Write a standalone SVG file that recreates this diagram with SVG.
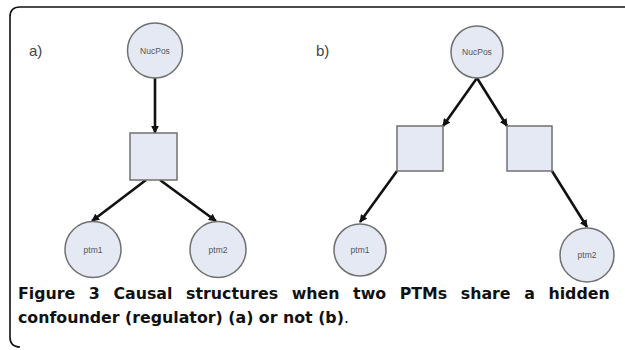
<svg xmlns="http://www.w3.org/2000/svg" width="625" height="350" viewBox="0 0 625 350">
<defs>
<style>
.node{fill:#e4e9f4;stroke:#707070;stroke-width:1.5}
.lbl{font-family:"Liberation Sans",Arial,sans-serif;font-size:8.5px;fill:#555;text-anchor:middle}
.edge{stroke:#111;stroke-width:2.6;fill:none;marker-end:url(#ah)}
.panel{font-family:"Liberation Sans",Arial,sans-serif;font-size:15px;fill:#444}
.cap{font-family:"DejaVu Sans","Open Sans",sans-serif;font-size:15.8px;fill:#111}
</style>
<marker id="ah" viewBox="0 0 10 10" refX="9" refY="5" markerWidth="3" markerHeight="3" orient="auto" markerUnits="strokeWidth">
<path d="M0,0 L10,5 L0,10 z" fill="#111"/>
</marker>
</defs>
<rect width="625" height="350" fill="#fff"/>
<path d="M625,7 H20 Q10,7 10,17 V337 Q10,347 20,347" fill="none" stroke="#111" stroke-width="1.6"/>
<text class="panel" x="29" y="56">a)</text>
<text class="panel" x="316" y="56">b)</text>
<g id="connectors">
<line class="edge" x1="155" y1="78" x2="155" y2="133"/>
<line class="edge" x1="146" y1="180" x2="92" y2="221"/>
<line class="edge" x1="160" y1="180" x2="216" y2="221"/>
<line class="edge" x1="477" y1="78" x2="443" y2="126"/>
<line class="edge" x1="477" y1="78" x2="507" y2="126"/>
<line class="edge" x1="397" y1="171" x2="360" y2="222"/>
<line class="edge" x1="552" y1="171" x2="587" y2="227"/>
</g>
<g id="a_nucpos"><circle class="node" cx="155" cy="50.5" r="27.5"/><text class="lbl" x="155" y="53.5">NucPos</text></g>
<g id="a_hidden"><rect class="node" x="130" y="133" width="47" height="47"/></g>
<g id="a_ptm1"><circle class="node" cx="93" cy="249.5" r="28"/><text class="lbl" x="93" y="252.5">ptm1</text></g>
<g id="a_ptm2"><circle class="node" cx="218" cy="249.5" r="28"/><text class="lbl" x="218" y="252.5">ptm2</text></g>
<g id="b_nucpos"><circle class="node" cx="477" cy="52" r="26"/><text class="lbl" x="477" y="55">NucPos</text></g>
<g id="b_hidden1"><rect class="node" x="397" y="126" width="46" height="45"/></g>
<g id="b_hidden2"><rect class="node" x="507" y="126" width="45" height="45"/></g>
<g id="b_ptm1"><circle class="node" cx="360" cy="250" r="26"/><text class="lbl" x="360" y="253">ptm1</text></g>
<g id="b_ptm2"><circle class="node" cx="587" cy="255" r="27"/><text class="lbl" x="587" y="258">ptm2</text></g>
<text class="cap" x="18" y="299" font-weight="bold" word-spacing="8.1">Figure 3 Causal structures when two PTMs share a hidden</text>
<text class="cap" x="18" y="323"><tspan font-weight="bold">confounder (regulator) (a) or not (b)</tspan>.</text>
</svg>
